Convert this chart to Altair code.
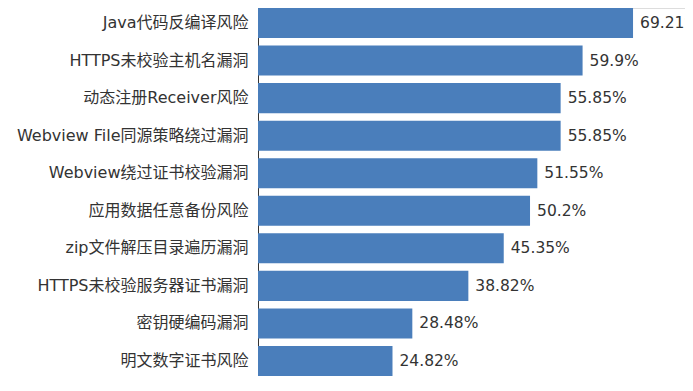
import altair as alt
import pandas as pd

categories = [
    "Java代码反编译风险",
    "HTTPS未校验主机名漏洞",
    "动态注册Receiver风险",
    "Webview File同源策略绕过漏洞",
    "Webview绕过证书校验漏洞",
    "应用数据任意备份风险",
    "zip文件解压目录遍历漏洞",
    "HTTPS未校验服务器证书漏洞",
    "密钥硬编码漏洞",
    "明文数字证书风险",
]
values = [69.21, 59.9, 55.85, 55.85, 51.55, 50.2, 45.35, 38.82, 28.48, 24.82]
labels = ["69.21%", "59.9%", "55.85%", "55.85%", "51.55%", "50.2%", "45.35%", "38.82%", "28.48%", "24.82%"]

df = pd.DataFrame({"cat": categories, "val": values, "label": labels})

FONT = "DejaVu Sans, Noto Sans CJK SC, sans-serif"

y = alt.Y(
    "cat:N",
    sort=None,
    title=None,
    scale=alt.Scale(paddingInner=0.2, paddingOuter=0),
    axis=alt.Axis(
        ticks=False,
        labelPadding=10,
        labelFontSize=16,
        labelFont=FONT,
        labelColor="#333333",
        domainColor="#333333",
        domainWidth=1,
        labelLimit=300,
    ),
)
x = alt.X("val:Q", title=None, scale=alt.Scale(domain=[0, 78.8], nice=False, zero=True), axis=None)

bars = alt.Chart(df).mark_bar(color="#4A7EBB").encode(x=x, y=y)
text = alt.Chart(df).mark_text(
    align="left", baseline="middle", dx=7, fontSize=15.5, font=FONT, color="#333333"
).encode(x=x, y=y, text="label:N")

chart = (
    alt.layer(bars, text)
    .properties(
        width=427,
        height=368,
        autosize=alt.AutoSizeParams(type="none"),
        padding={"left": 250, "top": 0, "right": 0, "bottom": 0},
    )
    .configure_view(stroke=None)
    .configure(background="white")
)

chart.save("out.html", embed_options={"renderer": "svg", "actions": False})
